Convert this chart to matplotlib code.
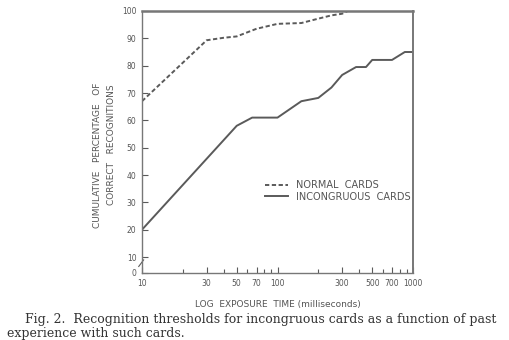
import matplotlib.pyplot as plt
from matplotlib.ticker import FixedLocator, NullFormatter

# values
normal_ms = [10, 30, 40, 50, 70, 100, 150, 200, 250, 300, 330, 1000]
normal_pct = [67, 89.3, 90.2, 90.7, 93.5, 95.3, 95.6, 97.2, 98.4, 99.0, 100, 100]

incong_ms = [10, 50, 65, 100, 150, 200, 250, 300, 380, 450, 500, 700, 870, 1000]
incong_pct = [20, 58, 61, 61, 67, 68.2, 72, 76.6, 79.5, 79.5, 82.1, 82.1, 85, 85]

x_major = [10, 30, 50, 70, 100, 300, 500, 700, 1000]
x_minor = [20, 40, 60, 80, 90, 200, 400, 600, 800, 900]
y_ticks = [10, 20, 30, 40, 50, 60, 70, 80, 90, 100]
y_bottom = 4.15   # broken axis: "0" sits at the bottom edge

ink = "#5a5a5a"
text_col = "#555555"

fig = plt.figure(figsize=(5.09, 3.40), dpi=100)
ax = fig.add_axes([142 / 509, 67 / 340, 271 / 509, 262 / 340])

ax.plot(normal_ms, normal_pct, color=ink, lw=1.4, ls=(0, (2.2, 1.3)),
        label="NORMAL  CARDS")
ax.plot(incong_ms, incong_pct, color=ink, lw=1.4, label="INCONGRUOUS  CARDS")

ax.set_xscale("log")
ax.set_xlim(10, 1000)
ax.set_ylim(y_bottom, 100)

ax.xaxis.set_major_locator(FixedLocator(x_major))
ax.xaxis.set_minor_locator(FixedLocator(x_minor))
ax.xaxis.set_minor_formatter(NullFormatter())
ax.set_xticklabels([str(v) for v in x_major])
ax.set_yticks([y_bottom] + y_ticks)
ax.set_yticklabels(["0"] + [str(v) for v in y_ticks])

ax.tick_params(which="both", direction="in", colors=ink, labelcolor=text_col,
               labelsize=5.5, width=0.8)
ax.tick_params(which="major", length=4, pad=4)
ax.tick_params(which="minor", length=3)

for side in ["top", "right", "left", "bottom"]:
    ax.spines[side].set_color("#777777")
ax.spines["top"].set_linewidth(1.8)
ax.spines["right"].set_linewidth(1.4)
ax.spines["left"].set_linewidth(1.0)
ax.spines["bottom"].set_linewidth(1.0)

# small break mark on the y axis between 0 and 10
ax.plot([-0.012, 0.006], [0.025, 0.05], transform=ax.transAxes, color=ink,
        lw=0.8, clip_on=False)

leg = ax.legend(loc="upper left", bbox_to_anchor=(0.44, 0.37), frameon=False,
                fontsize=7, handlelength=2.4, handletextpad=0.8,
                labelspacing=0.2, borderaxespad=0)
for t in leg.get_texts():
    t.set_color(text_col)

ax.set_xlabel("LOG  EXPOSURE  TIME (milliseconds)", fontsize=6.5,
              color=text_col, labelpad=9)
fig.text(97 / 509, 1 - 155 / 340, "CUMULATIVE   PERCENTAGE   OF", rotation=90,
         ha="center", va="center", fontsize=6.5, color=text_col)
fig.text(111 / 509, 1 - 145 / 340, "CORRECT   RECOGNITIONS", rotation=90,
         ha="center", va="center", fontsize=6.5, color=text_col)

fig.text(25 / 509, 1 - 320 / 340,
         "Fig. 2.  Recognition thresholds for incongruous cards as a function of past",
         fontsize=9.0, family="DejaVu Serif", color="#333333", va="center")
fig.text(7 / 509, 1 - 333 / 340, "experience with such cards.",
         fontsize=9.0, family="DejaVu Serif", color="#333333", va="center")

fig.savefig("out.png", dpi=100)
